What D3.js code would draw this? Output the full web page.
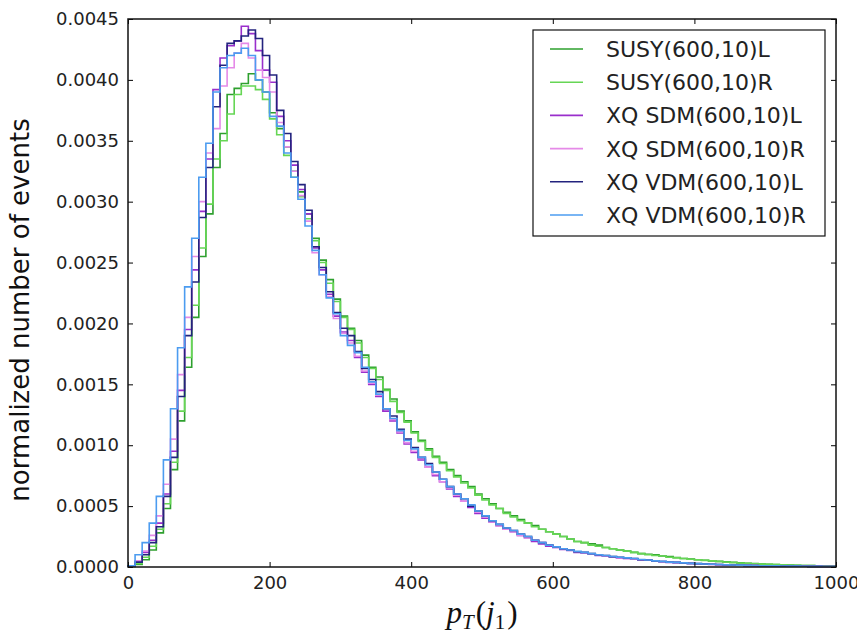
<!DOCTYPE html>
<html>
<head>
<meta charset="utf-8">
<script src="https://cdn.jsdelivr.net/npm/d3@7"></script>
<style>
  body { margin: 0; background: #fff; }
  svg { display: block; }
</style>
</head>
<body>
<div id="vis"></div>
<script>
// histogram bin edges: 100 bins of width 10 between 0 and 1000
var binLo = 0, binHi = 1000, binStep = 10;

var seriesNames = ['SUSY(600,10)L', 'SUSY(600,10)R', 'XQ SDM(600,10)L',
                   'XQ SDM(600,10)R', 'XQ VDM(600,10)L', 'XQ VDM(600,10)R'];

var susyL = [0.000005, 0.00002, 0.00006, 0.00014, 0.00028, 0.00048, 0.0008, 0.0012, 0.00164, 0.00205,
  0.00255, 0.0029, 0.00328, 0.00356, 0.00388, 0.00393, 0.00397, 0.00405, 0.004, 0.0039,
  0.00373, 0.0036, 0.00345, 0.00325, 0.00308, 0.0029, 0.0027, 0.00252, 0.00236, 0.0022,
  0.00206, 0.00196, 0.00186, 0.00174, 0.00164, 0.00156, 0.00146, 0.00138, 0.00128, 0.0012,
  0.00111, 0.00104, 0.00097, 0.00091, 0.00086, 0.0008, 0.00075, 0.0007, 0.00066, 0.0006,
  0.00056, 0.00052, 0.00048, 0.00045, 0.00042, 0.00039, 0.00036, 0.00034, 0.00031, 0.00029,
  0.00027, 0.00025, 0.00023, 0.00021, 0.0002, 0.00019, 0.00018, 0.00016, 0.00015, 0.00014,
  0.00013, 0.00012, 0.00011, 0.000105, 0.0001, 0.00009, 0.000085, 0.000078, 0.00007, 0.000065,
  0.00006, 0.000055, 0.00005, 0.000046, 0.000042, 0.000038, 0.000034, 0.00003, 0.000028, 0.000025,
  0.000022, 0.00002, 0.000018, 0.000016, 0.000014, 0.000012, 0.000011, 0.00001, 0.000009, 0.000008];

var susyR = [0.000005, 0.00003, 0.00008, 0.00017, 0.00031, 0.00052, 0.00086, 0.00128, 0.00172, 0.00215,
  0.00262, 0.00298, 0.00335, 0.0035, 0.00372, 0.00388, 0.00395, 0.00395, 0.00392, 0.00384,
  0.00368, 0.00355, 0.00338, 0.0032, 0.00304, 0.00286, 0.00268, 0.0025, 0.00233, 0.00218,
  0.00205, 0.00195, 0.00184, 0.00172, 0.00163, 0.00154, 0.00145, 0.00136, 0.00127, 0.00119,
  0.0011, 0.00103, 0.00096, 0.0009, 0.00085, 0.00079, 0.00074, 0.00069, 0.00065, 0.00059,
  0.00055, 0.00051, 0.00048, 0.00044, 0.00041, 0.00038, 0.00036, 0.00033, 0.00031, 0.00029,
  0.00027, 0.00025, 0.00023, 0.00021, 0.0002, 0.00018, 0.00017, 0.00016, 0.00015, 0.00014,
  0.00013, 0.00012, 0.00011, 0.0001, 0.000095, 0.00009, 0.00008, 0.000075, 0.00007, 0.000064,
  0.00006, 0.000054, 0.00005, 0.000045, 0.000041, 0.000037, 0.000033, 0.00003, 0.000027, 0.000024,
  0.000022, 0.00002, 0.000018, 0.000016, 0.000014, 0.000012, 0.000011, 0.00001, 0.000009, 0.000008];

var sdmL = [0.00001, 0.00005, 0.00012, 0.00022, 0.00036, 0.0006, 0.00095, 0.00145, 0.00195, 0.00244,
  0.00292, 0.00335, 0.00392, 0.00418, 0.00428, 0.00432, 0.00444, 0.00438, 0.00424, 0.00408,
  0.00398, 0.0037, 0.0035, 0.0033, 0.0031, 0.0029, 0.00262, 0.00244, 0.00224, 0.00206,
  0.00193, 0.00186, 0.00172, 0.0016, 0.0015, 0.0014, 0.00128, 0.0012, 0.0011, 0.00101,
  0.00094, 0.00088, 0.00082, 0.00075, 0.0007, 0.00064, 0.00058, 0.00054, 0.00049, 0.00044,
  0.0004, 0.00037, 0.00034, 0.00031, 0.00029, 0.00026, 0.00024, 0.00021, 0.00019, 0.00017,
  0.00016, 0.000145, 0.000135, 0.00012, 0.000115, 0.000105, 0.000095, 0.00009, 0.00008, 0.000075,
  0.00007, 0.000065, 0.000058, 0.000055, 0.000048, 0.000043, 0.000038, 0.000036, 0.000032, 0.000029,
  0.000027, 0.000024, 0.000021, 0.000019, 0.000017, 0.000015, 0.000014, 0.000012, 0.000011, 0.00001,
  0.00001, 0.000009, 0.000008, 0.000007, 0.000006, 0.000006, 0.000005, 0.000005, 0.000004, 0.000004];

var sdmR = [0.00001, 0.00005, 0.00013, 0.00026, 0.00042, 0.00068, 0.00105, 0.00158, 0.00205, 0.00255,
  0.003, 0.0034, 0.0036, 0.00395, 0.0041, 0.00422, 0.0043, 0.00418, 0.00408, 0.00402,
  0.0039, 0.00365, 0.00345, 0.00325, 0.00305, 0.00284, 0.00258, 0.0024, 0.00222, 0.00204,
  0.00192, 0.00184, 0.00173, 0.00161, 0.00151, 0.00141, 0.0013, 0.00121, 0.00111, 0.00102,
  0.00095, 0.00089, 0.00082, 0.00076, 0.0007, 0.00065, 0.00059, 0.00054, 0.0005, 0.00045,
  0.00041, 0.00037, 0.00034, 0.00031, 0.00029, 0.00026, 0.00024, 0.00022, 0.0002, 0.00018,
  0.00016, 0.00015, 0.00014, 0.000125, 0.000115, 0.000105, 0.0001, 0.00009, 0.000082, 0.000076,
  0.00007, 0.000065, 0.00006, 0.000055, 0.00005, 0.000045, 0.00004, 0.000037, 0.000033, 0.00003,
  0.000027, 0.000024, 0.000022, 0.00002, 0.000018, 0.000016, 0.000014, 0.000013, 0.000012, 0.00001,
  0.00001, 0.000009, 0.000008, 0.000007, 0.000007, 0.000006, 0.000005, 0.000005, 0.000004, 0.000004];

var vdmL = [0.00001, 0.00004, 0.0001, 0.0002, 0.00033, 0.00058, 0.0009, 0.0014, 0.0019, 0.00234,
  0.00287, 0.00328, 0.00378, 0.00412, 0.0043, 0.00432, 0.00436, 0.00441, 0.00434, 0.0042,
  0.00404, 0.00375, 0.00356, 0.00333, 0.00314, 0.00293, 0.00263, 0.00246, 0.00226, 0.00209,
  0.00196, 0.0019, 0.00177, 0.00163, 0.00154, 0.00144, 0.0013, 0.00124, 0.00113, 0.00105,
  0.00098, 0.0009, 0.00085, 0.00078, 0.00072, 0.00066, 0.0006, 0.00056, 0.0005, 0.00046,
  0.00042, 0.00038, 0.00035, 0.00032, 0.0003, 0.00027, 0.00025, 0.00022, 0.0002, 0.00018,
  0.000165, 0.00015, 0.00014, 0.000125, 0.00012, 0.00011, 0.0001, 0.000095, 0.000085, 0.00008,
  0.000075, 0.00007, 0.00006, 0.000058, 0.00005, 0.000045, 0.00004, 0.000038, 0.000034, 0.00003,
  0.000028, 0.000025, 0.000022, 0.00002, 0.000018, 0.000016, 0.000015, 0.000013, 0.000012, 0.00001,
  0.00001, 0.000009, 0.000008, 0.000007, 0.000007, 0.000006, 0.000005, 0.000005, 0.000004, 0.000004];

var vdmR = [0.00001, 0.0001, 0.0002, 0.00036, 0.00058, 0.00088, 0.0013, 0.0018, 0.0023, 0.0027,
  0.0032, 0.00348, 0.0039, 0.0041, 0.0042, 0.00422, 0.00426, 0.0042, 0.004, 0.0039,
  0.0037, 0.00362, 0.0034, 0.0032, 0.00302, 0.0028, 0.0026, 0.0024, 0.00221, 0.00208,
  0.0019, 0.00182, 0.00176, 0.00164, 0.00152, 0.00142, 0.0013, 0.00122, 0.00112, 0.00104,
  0.00097, 0.0009, 0.00084, 0.00078, 0.00072, 0.00066, 0.0006, 0.00056, 0.00051, 0.00046,
  0.00042, 0.00038, 0.00035, 0.00032, 0.0003, 0.00027, 0.00025, 0.00022, 0.0002, 0.00018,
  0.000165, 0.00015, 0.00014, 0.000128, 0.00012, 0.00011, 0.0001, 0.000095, 0.000086, 0.00008,
  0.000075, 0.00007, 0.000062, 0.000058, 0.00005, 0.000046, 0.00004, 0.000038, 0.000034, 0.00003,
  0.000028, 0.000025, 0.000022, 0.00002, 0.000018, 0.000016, 0.000015, 0.000013, 0.000012, 0.00001,
  0.00001, 0.000009, 0.000008, 0.000007, 0.000007, 0.000006, 0.000005, 0.000005, 0.000004, 0.000004];

var xTicks = [0, 200, 400, 600, 800, 1000];
var yTicks = [0, 0.0005, 0.001, 0.0015, 0.002, 0.0025, 0.003, 0.0035, 0.004, 0.0045];

var seriesValues = [susyL, susyR, sdmL, sdmR, vdmL, vdmR];
var seriesColors = ['#2ea02e', '#66d655', '#9a2fcc', '#e58ae8', '#23237e', '#4c9cf0'];

var width = 857,
    height = 635,
    margin = {top: 19, right: 21, bottom: 68, left: 128};

var plotW = width - margin.left - margin.right,
    plotH = height - margin.top - margin.bottom;

var xScale = d3.scaleLinear()
  .domain([binLo, binHi])
  .range([0, plotW]);

var yScale = d3.scaleLinear()
  .domain([0, 0.0045])
  .range([plotH, 0]);

var svg = d3.select('#vis')
  .append('svg')
    .attr('width', width)
    .attr('height', height)
    .style('background', '#fff');

var g = svg.append('g')
  .attr('transform', 'translate(' + margin.left + ',' + margin.top + ')');

// outline of a step histogram, like histtype='step'
function stepPoints(vals) {
  var pts = [[binLo, 0]];
  vals.forEach(function(v, i) {
    pts.push([binLo + i * binStep, v]);
    pts.push([binLo + (i + 1) * binStep, v]);
  });
  pts.push([binHi, 0]);
  return pts;
}

var line = d3.line()
  .x(function(d) { return xScale(d[0]); })
  .y(function(d) { return yScale(d[1]); });

g.selectAll('path.hist')
  .data(seriesValues)
  .enter()
  .append('path')
    .attr('class', 'hist')
    .attr('d', function(d) { return line(stepPoints(d)); })
    .attr('fill', 'none')
    .attr('stroke', function(d, i) { return seriesColors[i]; })
    .attr('stroke-width', 1.6);

// axes: ticks point inward on all four sides (classic matplotlib)
var tickFont = '18px "DejaVu Sans", sans-serif';

var xAxis = g.append('g')
  .attr('transform', 'translate(0,' + plotH + ')')
  .call(d3.axisBottom(xScale).tickValues(xTicks).tickSizeInner(-5).tickSizeOuter(0).tickPadding(9)
    .tickFormat(d3.format('d')));

var xAxisTop = g.append('g')
  .call(d3.axisTop(xScale).tickValues(xTicks).tickSizeInner(-5).tickSizeOuter(0).tickFormat(''));

var yAxis = g.append('g')
  .call(d3.axisLeft(yScale).tickValues(yTicks).tickSizeInner(-5).tickSizeOuter(0).tickPadding(9)
    .tickFormat(d3.format('.4f')));

var yAxisRight = g.append('g')
  .attr('transform', 'translate(' + plotW + ',0)')
  .call(d3.axisRight(yScale).tickValues(yTicks).tickSizeInner(-5).tickSizeOuter(0).tickFormat(''));

[xAxis, xAxisTop, yAxis, yAxisRight].forEach(function(a) {
  a.select('.domain').remove();
  a.selectAll('line').attr('stroke', '#000').attr('stroke-width', 1);
  a.selectAll('text').style('font', tickFont).attr('fill', '#222');
});

g.append('rect')
  .attr('width', plotW)
  .attr('height', plotH)
  .attr('fill', 'none')
  .attr('stroke', '#111')
  .attr('stroke-width', 1.5);

// axis labels
svg.append('text')
  .attr('transform', 'translate(29,310) rotate(-90)')
  .attr('text-anchor', 'middle')
  .style('font', '26px "DejaVu Sans", sans-serif')
  .attr('fill', '#111')
  .text('normalized number of events');

var xl = svg.append('text')
  .attr('x', margin.left + plotW / 2)
  .attr('y', 623)
  .attr('text-anchor', 'middle')
  .style('font', '31px "Liberation Serif", serif')
  .attr('fill', '#111');
xl.append('tspan').style('font-style', 'italic').text('p');
xl.append('tspan').style('font-style', 'italic').style('font-size', '21px').attr('dy', 6).text('T');
xl.append('tspan').attr('dy', -6).attr('dx', 2).text('(');
xl.append('tspan').style('font-style', 'italic').text('j');
xl.append('tspan').style('font-size', '21px').attr('dy', 6).text('1');
xl.append('tspan').attr('dy', -6).attr('dx', 2).text(')');

// legend
var legend = svg.append('g')
  .attr('transform', 'translate(533,30)');

legend.append('rect')
  .attr('width', 292)
  .attr('height', 206)
  .attr('fill', '#fff')
  .attr('stroke', '#111')
  .attr('stroke-width', 1.2);

var rows = legend.selectAll('g.row')
  .data(seriesNames)
  .enter()
  .append('g')
    .attr('class', 'row')
    .attr('transform', function(d, i) { return 'translate(0,' + (19 + i * 33.2) + ')'; });

rows.append('line')
  .attr('x1', 17)
  .attr('x2', 50)
  .attr('stroke', function(d, i) { return seriesColors[i]; })
  .attr('stroke-width', 1.6);

rows.append('text')
  .attr('x', 73)
  .attr('dy', '0.36em')
  .style('font', '22px "DejaVu Sans", sans-serif')
  .attr('fill', '#222')
  .text(function(d) { return d; });
</script>
</body>
</html>
